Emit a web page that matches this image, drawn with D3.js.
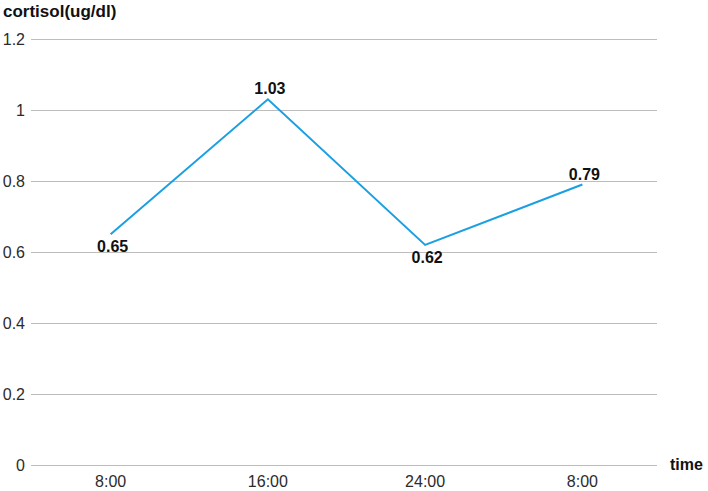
<!DOCTYPE html>
<html>
<head>
<meta charset="utf-8">
<script src="https://cdn.jsdelivr.net/npm/d3@7"></script>
<style>
  body { margin: 0; background: #fff; }
  svg { display: block; font-family: "Liberation Sans", Arial, sans-serif; }
</style>
</head>
<body>
<div id="chart"></div>
<script>
// chart data
const times = ["8:00", "16:00", "24:00", "8:00"];
const cortisol = [0.65, 1.03, 0.62, 0.79];
const yTicks = [0, 0.2, 0.4, 0.6, 0.8, 1, 1.2];

const width = 708;
const height = 491;

const svg = d3.select("#chart").append("svg")
    .attr("width", width)
    .attr("height", height);

const x = d3.scalePoint()
    .domain(d3.range(times.length))
    .range([32, 661])
    .padding(0.5);

const y = d3.scaleLinear()
    .domain([0, 1.2])
    .range([465, 39]);

// horizontal grid lines
svg.append("g")
    .selectAll("line")
    .data(yTicks)
    .join("line")
    .attr("x1", 31)
    .attr("x2", 657)
    .attr("y1", d => Math.round(y(d)) + 0.5)
    .attr("y2", d => Math.round(y(d)) + 0.5)
    .attr("stroke", "#bdbdbd")
    .attr("stroke-width", 1);

// y tick labels
svg.append("g")
    .selectAll("text")
    .data(yTicks)
    .join("text")
    .attr("x", 25)
    .attr("y", d => y(d))
    .attr("dy", "0.35em")
    .attr("text-anchor", "end")
    .attr("font-size", 16)
    .attr("fill", "#2b2b2b")
    .text(d => d3.format("~g")(d));

// x tick labels
svg.append("g")
    .selectAll("text")
    .data(times)
    .join("text")
    .attr("x", (d, i) => x(i))
    .attr("y", 487)
    .attr("text-anchor", "middle")
    .attr("font-size", 16)
    .attr("fill", "#2b2b2b")
    .text(d => d);

// axis titles
svg.append("text")
    .attr("x", 3)
    .attr("y", 17)
    .attr("font-size", 17)
    .attr("font-weight", "bold")
    .attr("fill", "#111")
    .text("cortisol(ug/dl)");

svg.append("text")
    .attr("x", 670)
    .attr("y", 470)
    .attr("font-size", 16)
    .attr("font-weight", "bold")
    .attr("fill", "#111")
    .text("time");

// line
const line = d3.line()
    .x((d, i) => x(i))
    .y(d => y(d));

svg.append("path")
    .datum(cortisol)
    .attr("d", line)
    .attr("fill", "none")
    .attr("stroke", "#1a9fe3")
    .attr("stroke-width", 2);

// value labels: above peaks, below troughs
function isAbove(i) {
    const nb = [cortisol[i - 1], cortisol[i + 1]].filter(v => v != null);
    return cortisol[i] >= d3.mean(nb);
}

svg.append("g")
    .selectAll("text")
    .data(cortisol)
    .join("text")
    .attr("x", (d, i) => x(i) + 2)
    .attr("y", (d, i) => isAbove(i) ? y(d) - 5 : y(d) + 18)
    .attr("text-anchor", "middle")
    .attr("font-size", 16)
    .attr("font-weight", "bold")
    .attr("fill", "#111")
    .text(d => d3.format(".2f")(d));
</script>
</body>
</html>
